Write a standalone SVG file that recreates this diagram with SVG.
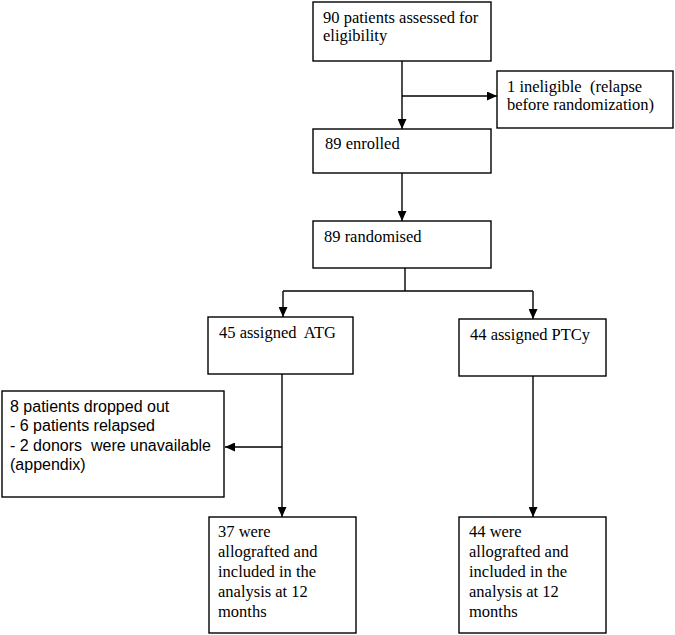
<svg xmlns="http://www.w3.org/2000/svg" width="675" height="635" viewBox="0 0 675 635">
<defs>
<marker id="arr" markerUnits="userSpaceOnUse" markerWidth="10" markerHeight="9" refX="10" refY="4.5" orient="auto">
<path d="M0,0 L10,4.5 L0,9 z" fill="#000"/>
</marker>
<style>
rect.box{fill:#fff;stroke:#000;stroke-width:1.4}
.t{font-family:'Liberation Serif', 'Times New Roman', 'DejaVu Serif', serif;font-size:16.5px;fill:#000}
.s{font-family:'Liberation Sans', Arial, sans-serif;font-size:16px;fill:#000}
.c{fill:none;stroke:#000;stroke-width:1.4}
</style>
</defs>
<rect width="675" height="635" fill="#fff"/>
<g id="connectors">
<path class="c" d="M402,61 V129" marker-end="url(#arr)"/>
<path class="c" d="M402,96 H497" marker-end="url(#arr)"/>
<path class="c" d="M402,173 V221" marker-end="url(#arr)"/>
<path class="c" d="M405,268 V291"/>
<path class="c" d="M283,291 H533"/>
<path class="c" d="M283,291 V317" marker-end="url(#arr)"/>
<path class="c" d="M533,291 V319" marker-end="url(#arr)"/>
<path class="c" d="M282,374 V517" marker-end="url(#arr)"/>
<path class="c" d="M282,447 H225" marker-end="url(#arr)"/>
<path class="c" d="M533,376 V517" marker-end="url(#arr)"/>
</g>
<g id="assessed">
<rect class="box" x="313" y="2" width="178" height="59"/>
<text class="t" x="323" y="23" font-family="Liberation Serif, serif">90 patients assessed for</text>
<text class="t" x="323" y="41" font-family="Liberation Serif, serif">eligibility</text>
</g>
<g id="ineligible">
<rect class="box" x="497" y="71" width="176" height="57"/>
<text class="t" x="507" y="92" xml:space="preserve">1 ineligible  (relapse</text>
<text class="t" x="507" y="110">before randomization)</text>
</g>
<g id="enrolled">
<rect class="box" x="313" y="129" width="178" height="44"/>
<text class="t" x="325" y="149">89 enrolled</text>
</g>
<g id="randomised">
<rect class="box" x="313" y="221" width="178" height="47"/>
<text class="t" x="324" y="242">89 randomised</text>
</g>
<g id="atg">
<rect class="box" x="208" y="317" width="145" height="57"/>
<text class="t" x="219" y="338" xml:space="preserve">45 assigned  ATG</text>
</g>
<g id="ptcy">
<rect class="box" x="459" y="319" width="147" height="57"/>
<text class="t" x="470" y="340">44 assigned PTCy</text>
</g>
<g id="dropped">
<rect class="box" x="2" y="391" width="222" height="106"/>
<text class="s" x="10" y="412">8 patients dropped out</text>
<text class="s" x="10" y="431">- 6 patients relapsed</text>
<text class="s" x="10" y="451" xml:space="preserve">- 2 donors  were unavailable</text>
<text class="s" x="10" y="470">(appendix)</text>
</g>
<g id="atg-final">
<rect class="box" x="209" y="517" width="147" height="116"/>
<text class="t" x="218" y="537">37 were</text>
<text class="t" x="218" y="557">allografted and</text>
<text class="t" x="218" y="577">included in the</text>
<text class="t" x="218" y="597">analysis at 12</text>
<text class="t" x="218" y="617">months</text>
</g>
<g id="ptcy-final">
<rect class="box" x="459" y="517" width="147" height="116"/>
<text class="t" x="469" y="537">44 were</text>
<text class="t" x="469" y="557">allografted and</text>
<text class="t" x="469" y="577">included in the</text>
<text class="t" x="469" y="597">analysis at 12</text>
<text class="t" x="469" y="617">months</text>
</g>
</svg>
